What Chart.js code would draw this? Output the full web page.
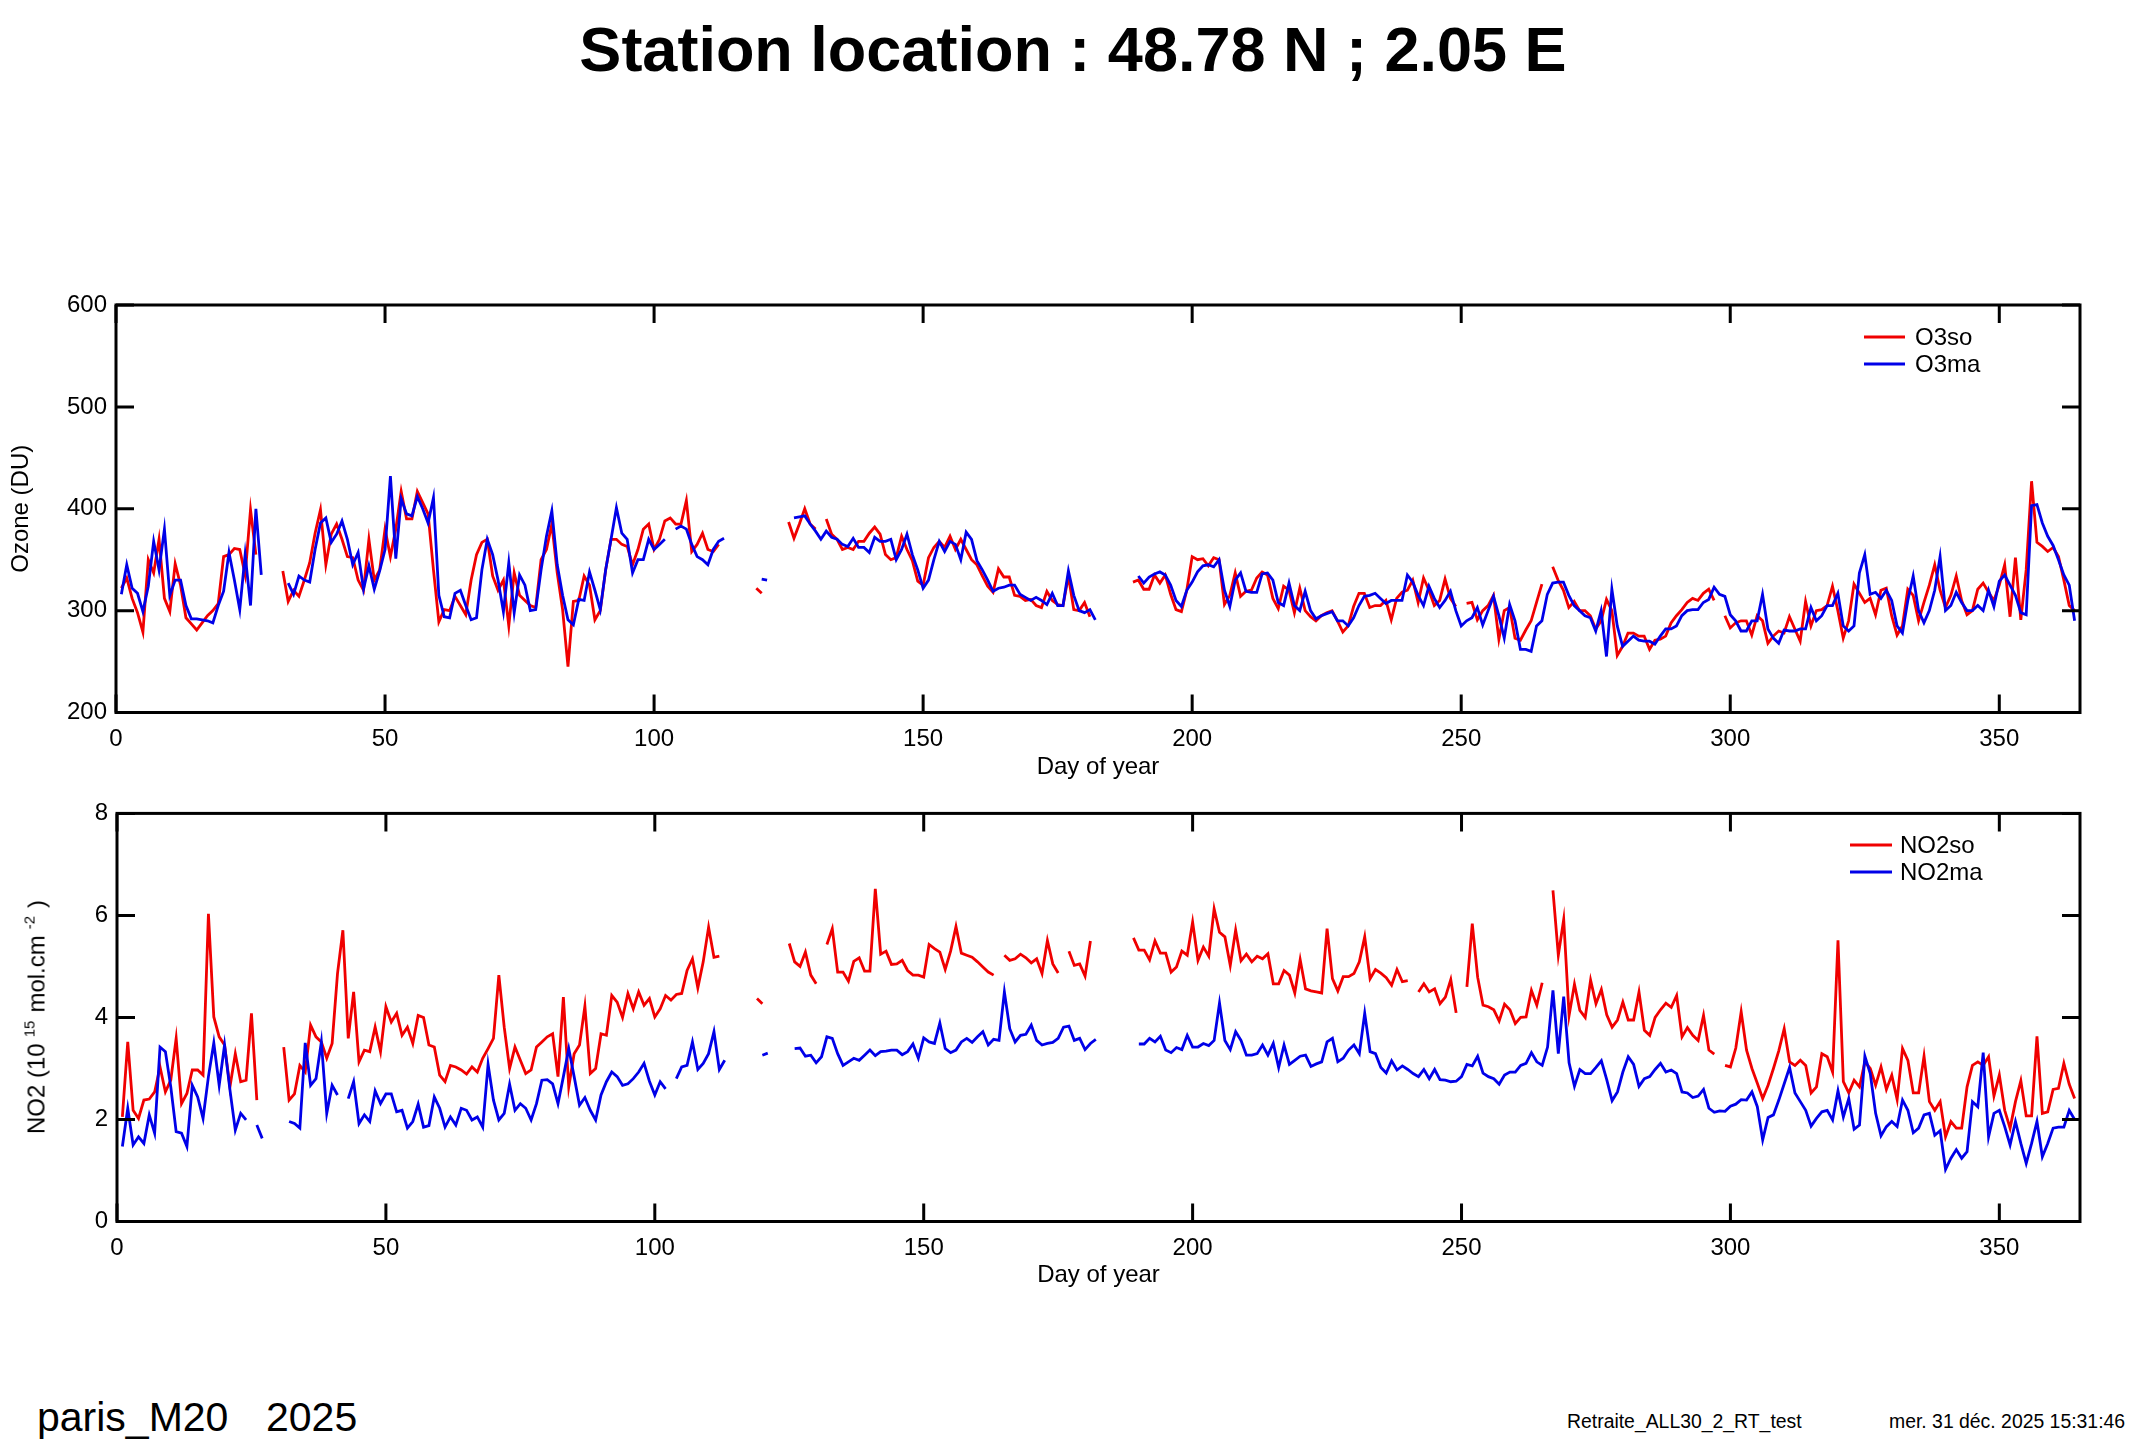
<!DOCTYPE html>
<html>
<head>
<meta charset="utf-8">
<script src="https://cdn.jsdelivr.net/npm/chart.js@4.4.1/dist/chart.umd.min.js"></script>
<style>
body { margin: 0; width: 2146px; height: 1450px; background: #fff; position: relative; overflow: hidden;
       font-family: "Liberation Sans", Arial, sans-serif; color: #000; }
canvas { position: absolute; left: 0; }
.txt { position: absolute; white-space: pre; line-height: 1; }
#no2label { left: 35px; top: 1017px; font-size: 24px; transform: translate(-50%, -50%) rotate(-90deg); }
#no2label sup { font-size: 15px; vertical-align: 10px; margin: 0 8px 0 6px; }
</style>
</head>
<body>
<div class="txt" style="left:0;width:2146px;text-align:center;top:18px;font-size:63px;font-weight:bold;">Station location : 48.78 N ; 2.05 E</div>
<canvas id="o3Chart" width="2146" height="510" style="top:280px;width:2146px;height:510px"></canvas>
<canvas id="no2Chart" width="2146" height="520" style="top:790px;width:2146px;height:520px"></canvas>
<div class="txt" id="no2label">NO2 (10<sup>15</sup>mol.cm<sup>-2</sup>)</div>
<div class="txt" style="left:37px;top:1397px;font-size:41px;">paris_M20</div>
<div class="txt" style="left:266px;top:1397px;font-size:41px;">2025</div>
<div class="txt" style="left:1567px;top:1412px;font-size:19.4px;">Retraite_ALL30_2_RT_test</div>
<div class="txt" style="left:1889px;top:1412px;font-size:19.4px;">mer. 31 déc. 2025 15:31:46</div>
<script>
// daily values, first entry is day 1, null = no measurement
const firstDay = 1;

const o3so = [
    322,332,312,298,279,350,337,370,312,299,
    346,325,293,287,281,288,295,300,307,353,
    355,361,360,335,399,355,null,null,null,null,
    339,309,320,314,330,347,376,399,345,375,
    385,370,353,352,330,320,370,330,340,380,
    353,380,417,390,390,417,406,395,340,289,
    301,300,314,305,296,330,355,367,370,334,
    320,330,285,337,315,310,305,303,350,360,
    385,337,301,245,309,310,334,325,291,300,
    340,370,370,365,363,345,360,380,385,360,
    370,388,391,385,385,408,358,365,376,360,
    358,365,null,null,null,null,null,null,322,317,
    null,null,null,null,387,371,385,400,385,380,
    null,390,375,370,360,362,360,368,368,376,
    382,375,355,350,352,373,360,349,329,325,
    352,362,368,362,373,360,370,360,350,345,
    334,324,318,341,333,333,315,314,310,311,
    305,303,319,310,306,305,334,301,300,308,
    294,null,null,null,null,null,null,null,328,330,
    321,321,335,327,335,316,301,299,320,353,
    350,351,344,352,350,306,315,337,314,319,
    320,332,338,335,312,302,324,320,298,322,
    300,294,290,295,298,300,290,279,285,304,
    317,317,303,305,305,310,291,312,318,320,
    330,308,332,320,305,310,331,312,304,null,
    307,308,291,300,305,315,272,300,303,273,
    271,281,290,308,326,null,343,330,320,303,
    309,300,300,295,282,290,311,300,256,265,
    278,278,275,275,262,271,272,275,288,295,
    301,308,312,310,317,321,310,null,295,283,
    288,290,290,276,295,290,268,275,280,278,
    294,282,270,309,285,300,301,305,324,300,
    273,290,326,317,308,312,296,320,322,295,
    276,285,321,315,290,308,325,345,320,303,
    315,334,310,296,300,321,327,318,310,325,
    345,294,352,291,340,427,367,363,358,362,
    353,330,305,300
];

const o3ma = [
    316,345,322,317,299,324,368,340,380,315,
    330,330,305,292,292,291,290,288,305,319,
    357,330,301,355,305,400,335,null,null,null,
    null,327,316,334,330,328,360,386,391,367,
    375,388,370,345,357,321,344,321,339,360,
    432,351,410,395,393,412,400,386,411,315,
    294,293,317,320,305,291,293,340,370,355,
    330,299,347,298,335,325,300,301,340,373,
    398,345,315,291,286,311,310,338,320,301,
    340,370,401,376,370,337,350,350,370,360,
    365,370,null,380,383,380,365,353,350,345,
    360,368,371,null,null,null,null,null,null,331,
    330,null,null,null,null,391,392,393,385,378,
    370,378,372,370,365,363,371,362,362,357,
    372,368,368,370,350,360,375,355,340,322,
    330,350,368,358,368,365,350,377,370,349,
    340,330,319,322,323,325,325,316,313,310,
    313,310,306,317,305,305,339,315,300,298,
    301,291,null,null,null,null,null,null,null,334,
    327,333,336,338,335,325,310,304,320,328,
    338,344,345,343,350,320,304,330,337,319,
    318,318,336,337,330,308,305,327,305,300,
    319,300,292,295,297,299,290,290,285,293,
    305,314,315,317,312,307,310,310,310,335,
    328,315,305,324,312,303,310,319,300,285,
    290,293,303,286,300,314,295,273,306,290,
    262,262,260,285,290,316,327,328,328,315,
    305,300,295,293,280,300,255,321,285,265,
    270,275,271,270,270,267,275,282,282,285,
    295,300,301,301,308,311,323,316,314,296,
    290,280,280,290,290,316,282,273,268,281,
    280,280,282,282,303,290,295,305,305,317,
    285,280,285,337,355,316,318,312,320,310,
    285,278,310,334,300,288,300,320,353,300,
    305,318,308,300,300,305,300,320,304,329,
    335,325,315,298,296,403,404,386,373,364,
    350,335,325,290
];

const no2so = [
    2.05,3.52,2.18,2.02,2.38,2.4,2.54,3.03,2.54,2.77,
    3.59,2.31,2.51,2.97,2.97,2.87,6.03,4.01,3.62,3.46,
    2.64,3.29,2.74,2.77,4.08,2.38,null,null,null,null,
    3.42,2.38,2.5,3.06,2.93,3.85,3.62,3.52,3.2,3.49,
    4.86,5.71,3.59,4.5,3.13,3.36,3.33,3.81,3.33,4.21,
    3.91,4.08,3.65,3.81,3.49,4.04,4.0,3.46,3.42,2.87,
    2.74,3.06,3.03,2.97,2.89,3.03,2.93,3.2,3.39,3.59,
    4.83,3.81,3.0,3.42,3.16,2.9,2.97,3.42,3.52,3.62,
    3.68,2.84,4.4,2.64,3.29,3.46,4.22,2.9,3.0,3.68,
    3.65,4.43,4.3,4.0,4.47,4.17,4.5,4.24,4.37,4.01,
    4.17,4.43,4.34,4.45,4.47,4.92,5.15,4.58,5.09,5.77,
    5.18,5.2,null,null,null,null,null,null,4.37,4.27,
    null,null,null,null,5.45,5.09,5.0,5.28,4.83,4.66,
    null,5.43,5.74,4.89,4.89,4.71,5.1,5.17,4.91,4.91,
    6.52,5.24,5.3,5.04,5.05,5.12,4.92,4.83,4.83,4.79,
    5.43,5.35,5.28,4.94,5.3,5.78,5.26,5.22,5.18,5.09,
    4.99,4.89,4.83,null,5.22,5.12,5.15,5.24,5.17,5.07,
    5.15,4.86,5.51,5.05,4.87,null,5.3,5.02,5.05,4.81,
    5.5,null,null,null,null,null,null,null,5.56,5.32,
    5.32,5.13,5.5,5.26,5.26,4.89,4.99,5.3,5.22,5.87,
    5.12,5.38,5.2,6.13,5.67,5.58,5.02,5.71,5.11,5.24,
    5.09,5.2,5.15,5.25,4.66,4.66,4.92,4.83,4.48,5.13,
    4.56,4.52,4.5,4.48,5.74,4.76,4.52,4.8,4.8,4.86,
    5.09,5.58,4.76,4.94,4.87,4.78,4.63,4.94,4.7,4.72,
    null,4.5,4.66,4.5,4.56,4.27,4.4,4.74,4.09,null,
    4.6,5.84,4.79,4.24,4.21,4.15,3.93,4.26,4.15,3.88,
    4.0,4.01,4.53,4.24,4.68,null,6.49,5.22,5.92,4.04,
    4.65,4.14,4.0,4.73,4.27,4.55,4.05,3.81,3.95,4.3,
    3.95,3.95,4.5,3.75,3.65,4.0,4.15,4.28,4.2,4.43,
    3.62,3.8,3.65,3.55,4.04,3.36,3.28,null,3.06,3.03,
    3.4,4.11,3.36,3.0,2.71,2.41,2.67,3.0,3.35,3.78,
    3.13,3.06,3.16,3.06,2.52,2.64,3.29,3.23,2.93,5.51,
    2.74,2.52,2.77,2.64,3.13,3.0,2.67,3.03,2.59,2.87,
    2.39,3.39,3.16,2.52,2.52,3.24,2.35,2.18,2.35,1.66,
    1.96,1.83,1.83,2.64,3.06,3.13,3.06,3.23,2.46,2.87,
    2.18,1.83,2.35,2.76,2.07,2.07,3.63,2.12,2.15,2.59,
    2.61,3.1,2.69,2.41
];

const no2ma = [
    1.47,2.22,1.5,1.66,1.53,2.09,1.73,3.42,3.33,2.64,
    1.76,1.73,1.47,2.67,2.44,2.02,2.84,3.5,2.67,3.46,
    2.58,1.79,2.12,1.99,null,1.89,1.63,null,null,null,
    null,1.96,1.92,1.83,3.5,2.67,2.8,3.52,2.12,2.67,
    2.48,null,2.41,2.74,1.92,2.09,1.96,2.56,2.31,2.5,
    2.5,2.15,2.18,1.83,1.96,2.3,1.85,1.88,2.44,2.22,
    1.85,2.05,1.89,2.22,2.18,1.99,2.05,1.85,3.08,2.38,
    1.99,2.12,2.69,2.18,2.31,2.22,1.99,2.31,2.77,2.78,
    2.7,2.31,2.84,3.39,2.84,2.28,2.43,2.18,1.99,2.48,
    2.74,2.93,2.84,2.67,2.7,2.8,2.93,3.1,2.75,2.48,
    2.74,2.6,null,2.8,3.03,3.06,3.52,2.98,3.1,3.29,
    3.72,2.98,3.16,null,null,null,null,null,null,3.26,
    3.3,null,null,null,null,3.39,3.4,3.24,3.26,3.11,
    3.23,3.62,3.59,3.29,3.06,3.13,3.2,3.16,3.26,3.36,
    3.25,3.33,3.34,3.36,3.36,3.27,3.33,3.48,3.2,3.6,
    3.52,3.49,3.89,3.39,3.31,3.36,3.52,3.59,3.51,3.62,
    3.72,3.46,3.57,3.55,4.5,3.78,3.52,3.65,3.67,3.85,
    3.55,3.46,3.49,3.51,3.59,3.81,3.83,3.55,3.59,3.37,
    3.49,3.57,null,null,null,null,null,null,null,3.48,
    3.48,3.59,3.52,3.63,3.36,3.31,3.41,3.37,3.65,3.42,
    3.42,3.49,3.45,3.55,4.28,3.55,3.37,3.72,3.55,3.26,
    3.26,3.29,3.46,3.26,3.49,3.02,3.46,3.08,3.16,3.24,
    3.26,3.04,3.09,3.13,3.52,3.59,3.13,3.2,3.36,3.46,
    3.29,4.08,3.33,3.29,3.02,2.91,3.15,2.97,3.05,2.98,
    2.9,2.84,2.98,2.8,2.98,2.78,2.77,2.74,2.75,2.84,
    3.08,3.05,3.24,2.91,2.84,2.8,2.69,2.87,2.93,2.93,
    3.06,3.1,3.31,3.13,3.06,3.42,4.53,3.29,4.41,3.11,
    2.65,2.98,2.9,2.9,3.02,3.15,2.78,2.37,2.54,2.93,
    3.23,3.08,2.65,2.8,2.84,2.98,3.1,2.93,2.97,2.9,
    2.54,2.52,2.43,2.46,2.59,2.22,2.14,2.17,2.16,2.26,
    2.3,2.39,2.38,2.54,2.25,1.6,2.04,2.09,2.38,2.7,
    3.02,2.52,2.35,2.18,1.87,2.02,2.15,2.18,1.99,2.56,
    2.05,2.41,1.81,1.89,3.24,2.9,2.12,1.68,1.86,1.96,
    1.86,2.38,2.18,1.74,1.83,2.09,2.12,1.69,1.78,1.02,
    1.24,1.41,1.24,1.37,2.35,2.25,3.31,1.66,2.12,2.18,
    1.86,1.5,1.96,1.53,1.14,1.53,1.96,1.27,1.53,1.83,
    1.85,1.85,2.18,2.0
];

const xTicks = { min: 0, max: 365, step: 50 };
const o3Ticks = { min: 200, max: 600, step: 100 };
const no2Ticks = { min: 0, max: 8, step: 2 };

const RED = '#f00000';
const BLUE = '#0000e8';
const FONT = 'Liberation Sans, Arial, sans-serif';

function toPoints(values) {
    return values.map((v, i) => ({ x: firstDay + i, y: v }));
}

// frame, inward ticks on all four sides and the legend inside the plot
const framePlugin = {
    id: 'frame',
    afterDatasetsDraw(chart, args, opts) {
        const { ctx, chartArea: a, scales } = chart;
        ctx.save();
        ctx.strokeStyle = '#000';
        ctx.lineWidth = 3;
        ctx.strokeRect(a.left, a.top, a.right - a.left, a.bottom - a.top);
        ctx.beginPath();
        scales.x.ticks.forEach(t => {
            const px = scales.x.getPixelForValue(t.value);
            ctx.moveTo(px, a.bottom); ctx.lineTo(px, a.bottom - 18);
            ctx.moveTo(px, a.top); ctx.lineTo(px, a.top + 18);
        });
        scales.y.ticks.forEach(t => {
            const py = scales.y.getPixelForValue(t.value);
            ctx.moveTo(a.left, py); ctx.lineTo(a.left + 18, py);
            ctx.moveTo(a.right, py); ctx.lineTo(a.right - 18, py);
        });
        ctx.stroke();

        ctx.font = '24px ' + FONT;
        ctx.textBaseline = 'middle';
        ctx.fillStyle = '#000';
        chart.data.datasets.forEach((ds, i) => {
            const y = a.top + opts.rowTop + i * 27;
            ctx.strokeStyle = ds.borderColor;
            ctx.lineWidth = 3;
            ctx.beginPath();
            ctx.moveTo(a.right - opts.lineStart, y);
            ctx.lineTo(a.right - opts.lineEnd, y);
            ctx.stroke();
            ctx.fillText(ds.label, a.right - opts.textStart, y + 1);
        });
        ctx.restore();
    }
};

function makeOptions(yTicks, axisW, axisH, titleBottom, yTitle, padTop, padRight, legend) {
    return {
        responsive: false,
        animation: false,
        devicePixelRatio: 1,
        layout: { padding: { top: padTop, right: padRight, left: 0, bottom: 0 } },
        plugins: { legend: { display: false }, tooltip: { enabled: false }, frame: legend },
        scales: {
            x: {
                type: 'linear',
                min: xTicks.min,
                max: xTicks.max,
                grid: { display: false, drawTicks: false },
                border: { display: false },
                ticks: { stepSize: xTicks.step, includeBounds: false, padding: 12, color: '#000', font: { family: FONT, size: 24 } },
                title: { display: true, text: 'Day of year', color: '#000', font: { family: FONT, size: 24 }, padding: { top: 0, bottom: titleBottom } },
                afterFit: s => { s.height = axisH; }
            },
            y: {
                min: yTicks.min,
                max: yTicks.max,
                grid: { display: false, drawTicks: false },
                border: { display: false },
                ticks: { stepSize: yTicks.step, padding: 9, color: '#000', font: { family: FONT, size: 24 } },
                title: { display: yTitle !== '', text: yTitle, color: '#000', font: { family: FONT, size: 24 }, padding: { top: 7, bottom: 0 } },
                afterFit: s => { s.width = axisW; }
            }
        }
    };
}

function lineSet(label, values, color, order) {
    return {
        label: label,
        data: toPoints(values),
        borderColor: color,
        backgroundColor: color,
        borderWidth: 2.8,
        pointRadius: 0,
        tension: 0,
        spanGaps: false,
        order: order
    };
}

const o3Chart = new Chart(document.getElementById('o3Chart'), {
    type: 'line',
    data: { datasets: [lineSet('O3so', o3so, RED, 1), lineSet('O3ma', o3ma, BLUE, 0)] },
    options: makeOptions(o3Ticks, 116, 77.5, 8, 'Ozone (DU)', 25, 66,
        { rowTop: 32, lineStart: 216, lineEnd: 175, textStart: 165 }),
    plugins: [framePlugin]
});

const no2Chart = new Chart(document.getElementById('no2Chart'), {
    type: 'line',
    data: { datasets: [lineSet('NO2so', no2so, RED, 1), lineSet('NO2ma', no2ma, BLUE, 0)] },
    options: makeOptions(no2Ticks, 117, 88.5, 20, '', 23, 66,
        { rowTop: 31.5, lineStart: 230, lineEnd: 188, textStart: 180 }),
    plugins: [framePlugin]
});
</script>
</body>
</html>
